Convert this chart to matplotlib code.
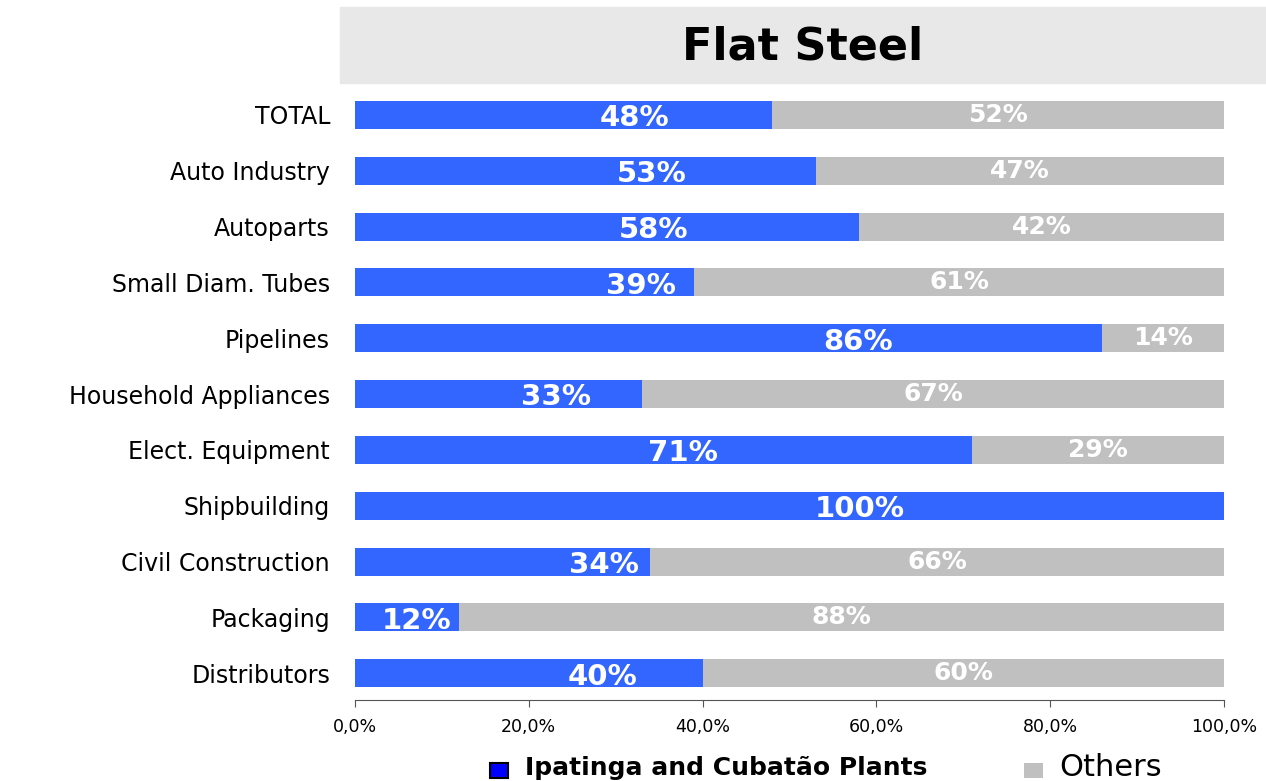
import numpy as np
import matplotlib
matplotlib.use('Agg')
import matplotlib.pyplot as plt
from matplotlib.patches import Rectangle, Patch

categories = ['TOTAL', 'Auto Industry', 'Autoparts', 'Small Diam. Tubes', 'Pipelines',
              'Household Appliances', 'Elect. Equipment', 'Shipbuilding',
              'Civil Construction', 'Packaging', 'Distributors']
ipatinga = [48, 53, 58, 39, 86, 33, 71, 100, 34, 12, 40]
others = [100 - v for v in ipatinga]
# where the blue labels sit along the bar (percent of axis)
ipatinga_label_x = [32.2, 34.1, 34.4, 32.9, 57.9, 23.1, 37.7, 58.1, 28.7, 7.1, 28.5]
x_ticks = [0, 20, 40, 60, 80, 100]
x_tick_labels = ['0,0%', '20,0%', '40,0%', '60,0%', '80,0%', '100,0%']

blue = '#3366FF'
gray = '#C0C0C0'

fig = plt.figure(figsize=(12.66, 7.81), dpi=100)
ax = fig.add_axes([355 / 1266, 1 - 700 / 781, 869 / 1266, (700 - 87) / 781])

y = np.arange(len(categories))[::-1]
ax.barh(y, ipatinga, height=0.5, color=blue)
ax.barh(y, others, left=ipatinga, height=0.5, color=gray)

for yi, v, o, lx in zip(y, ipatinga, others, ipatinga_label_x):
    ax.text(lx, yi - 0.06, f'{v}%', ha='center', va='center', color='white',
            fontsize=21, fontweight='bold')
    if o > 0:
        ax.text(v + o / 2, yi, f'{o}%', ha='center', va='center', color='white',
                fontsize=18, fontweight='bold')

ax.set_xlim(0, 100)
ax.set_ylim(-0.48, 10.5)
ax.set_yticks(y)
ax.set_yticklabels(categories, fontsize=17)
ax.tick_params(axis='y', length=0, pad=18)
ax.set_xticks(x_ticks)
ax.set_xticklabels(x_tick_labels, fontsize=12.5)
ax.tick_params(axis='x', length=5, color='#555555', pad=8)
for s in ['top', 'right', 'left']:
    ax.spines[s].set_visible(False)
ax.spines['bottom'].set_color('#555555')

# title band
fig.patches.append(Rectangle((340 / 1266, 1 - 83 / 781), 926 / 1266, 76 / 781,
                             transform=fig.transFigure, color='#E8E8E8', zorder=0))
fig.text(803 / 1266, 1 - 47 / 781, 'Flat Steel', ha='center', va='center',
         fontsize=32, fontweight='bold')

handles = [Patch(facecolor='#0000FF', edgecolor='black', linewidth=1.5),
           Patch(facecolor=gray, edgecolor='none')]
leg = fig.legend(handles, ['Ipatinga and Cubatão Plants', 'Others'], ncol=2,
                 loc='center', bbox_to_anchor=(826 / 1266, 1 - 767 / 781),
                 frameon=False, columnspacing=7.0, handlelength=1.3, handleheight=1.3,
                 handletextpad=1.2)
t1, t2 = leg.get_texts()
t1.set_fontsize(18)
t1.set_fontweight('bold')
t2.set_fontsize(22)

fig.savefig('out.png', dpi=100)
